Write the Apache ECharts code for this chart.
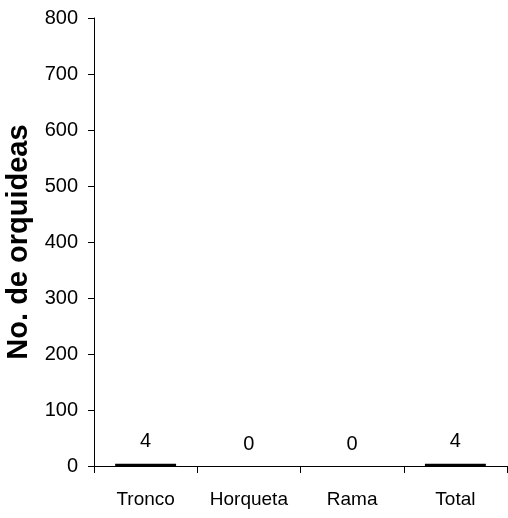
<!DOCTYPE html>
<html>
<head>
<meta charset="utf-8">
<script src="https://cdn.jsdelivr.net/npm/echarts@6/dist/echarts.min.js"></script>
<style>
  html, body { margin: 0; padding: 0; background: #fff; }
  #chart { width: 508px; height: 518px; }
</style>
</head>
<body>
<div id="chart"></div>
<script>
// Orchid counts by position on the host tree
const categories = ['Tronco', 'Horqueta', 'Rama', 'Total'];
const orchidCounts = [4, 0, 0, 4];
const yTicks = { min: 0, max: 800, step: 100 };

const font = '"Liberation Sans", Arial, sans-serif';

const chart = echarts.init(document.getElementById('chart'));
chart.setOption({
  animation: false,
  grid: { left: 94, right: 1, top: 18, bottom: 52, containLabel: false, outerBoundsMode: 'none' },
  xAxis: {
    type: 'category',
    data: categories,
    boundaryGap: true,
    axisLine: { lineStyle: { color: '#000', width: 1 } },
    axisTick: { show: true, interval: 0, alignWithLabel: false, length: 7, lineStyle: { color: '#000' } },
    axisLabel: { color: '#000', fontFamily: font, fontSize: 19, margin: 24, interval: 0 },
    splitLine: { show: false }
  },
  yAxis: {
    type: 'value',
    min: yTicks.min,
    max: yTicks.max,
    interval: yTicks.step,
    name: 'No. de orquideas',
    nameLocation: 'middle',
    nameGap: 54,
    nameTextStyle: { color: '#000', fontFamily: font, fontSize: 29, fontWeight: 'bold' },
    axisLine: { show: true, lineStyle: { color: '#000', width: 1 } },
    axisTick: { show: true, length: 6, lineStyle: { color: '#000' } },
    axisLabel: { color: '#000', fontFamily: font, fontSize: 20, margin: 16 },
    splitLine: { show: false }
  },
  series: [{
    type: 'bar',
    data: orchidCounts,
    barWidth: '59%',
    itemStyle: { color: '#000' },
    label: {
      show: true,
      position: 'top',
      distance: 12,
      color: '#000',
      fontFamily: font,
      fontSize: 20
    }
  }]
});
</script>
</body>
</html>
